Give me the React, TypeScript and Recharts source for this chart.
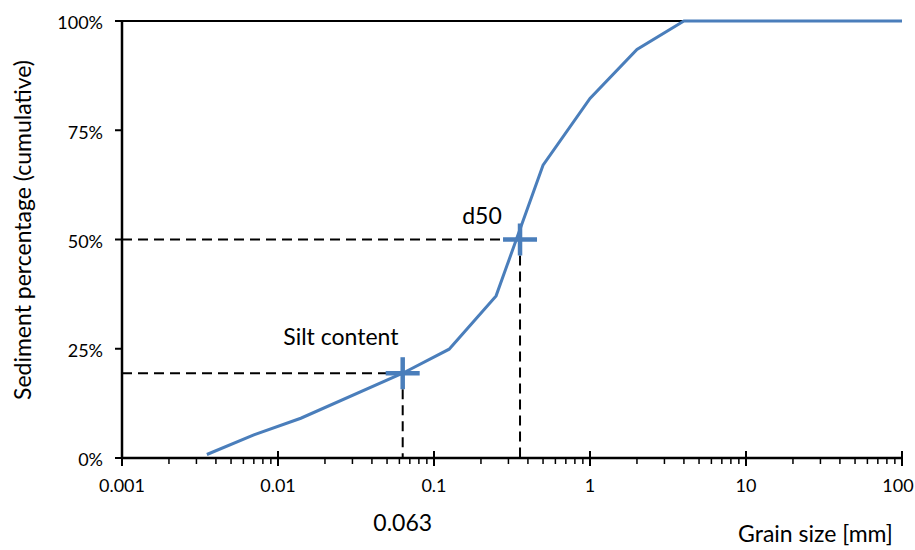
import React from 'react';
import {
  ComposedChart, Line, Scatter, XAxis, YAxis, ReferenceLine, ReferenceDot, Label,
} from 'recharts';

// grain size distribution (cumulative)
const GRAIN_SIZE = [0.0035, 0.007, 0.014, 0.063, 0.125, 0.25, 0.5, 1, 2, 4, 100];
const CUMULATIVE = [0.8, 5.3, 9.1, 19.4, 24.9, 37.1, 67.0, 82.3, 93.5, 100, 100];

const MAJOR_TICKS = [0.001, 0.01, 0.1, 1, 10, 100];
const MINOR_STEPS = [2, 3, 4, 5, 6, 7, 8, 9];
const Y_TICKS = [0, 25, 50, 75, 100];

const SILT_SIZE = 0.063;
const SILT_PCT = 19.4;
const D50_SIZE = 0.356;
const D50_PCT = 50;

const X_MIN = 0.001;
const Y_MIN = 0;

const BLUE = '#4a7ebb';
const FONT = 'Lato, sans-serif';

const curve = GRAIN_SIZE.map((size, i) => ({ size, pct: CUMULATIVE[i] }));
const minorTicks = MAJOR_TICKS.slice(0, -1).flatMap(d => MINOR_STEPS.map(m => +(d * m).toPrecision(3)));
const allTicks = [...MAJOR_TICKS, ...minorTicks].sort((a, b) => a - b);

const fmt = (v: number) => (v >= 1 ? String(v) : String(+v.toPrecision(3)));

const XTick = (props: any) => {
  const { x, y, payload } = props;
  const major = MAJOR_TICKS.includes(payload.value);
  // last label nudged in so it stays on the page
  const dx = payload.value === 100 ? -4 : 0;
  return (
    <g>
      {major ? (
        <line x1={x} x2={x} y1={y - 7} y2={y + 8} stroke="#000" strokeWidth={2} />
      ) : (
        <line x1={x} x2={x} y1={y} y2={y + 6} stroke="#000" strokeWidth={1.5} />
      )}
      {major && (
        <text x={x + dx} y={y + 34} textAnchor="middle" fontSize={18} fontFamily={FONT} fill="#000">
          {fmt(payload.value)}
        </text>
      )}
    </g>
  );
};

const Cross = (props: any) => {
  const { cx, cy } = props;
  return (
    <g stroke={BLUE} strokeWidth={4.5}>
      <line x1={cx - 17} x2={cx + 17} y1={cy} y2={cy} />
      <line x1={cx} x2={cx} y1={cy - 16} y2={cy + 16} />
    </g>
  );
};

const centerText = (text: string) => (p: any) => {
  const { x, y } = p.viewBox;
  return (
    <text x={x} y={y} textAnchor="middle" dominantBaseline="central" fontSize={23} fontFamily={FONT} fill="#000">
      {text}
    </text>
  );
};

export default function App() {
  return (
    <div style={{ position: 'absolute', left: 0, top: 0, width: 915, height: 550, background: '#fff' }}>
      <ComposedChart width={915} height={550} margin={{ top: 21, right: 13, bottom: 62, left: 0 }}>
        <XAxis
          type="number"
          dataKey="size"
          scale="log"
          domain={[0.001, 100]}
          ticks={allTicks}
          interval={0}
          allowDataOverflow
          axisLine={{ stroke: '#000', strokeWidth: 2.5 }}
          tickLine={false}
          tickSize={0}
          tickMargin={0}
          tick={<XTick />}
          height={30}
        />
        <YAxis
          type="number"
          domain={[0, 100]}
          ticks={Y_TICKS}
          width={122}
          axisLine={{ stroke: '#000', strokeWidth: 2.5 }}
          tickLine={{ stroke: '#000', strokeWidth: 2 }}
          tickSize={7}
          tickMargin={12}
          tickFormatter={(v: number) => `${v}%`}
          tick={{ fontSize: 18, fontFamily: FONT, fill: '#000', dy: 2 }}
        >
          <Label
            content={() => (
              <text transform="translate(22,230) rotate(-90)" textAnchor="middle" dominantBaseline="central" fontSize={23} fontFamily={FONT} fill="#000">
                Sediment percentage (cumulative)
              </text>
            )}
          />
        </YAxis>
        <ReferenceLine y={100} stroke="#000" strokeWidth={2} />
        <ReferenceLine segment={[{ x: X_MIN, y: SILT_PCT }, { x: SILT_SIZE, y: SILT_PCT }]} stroke="#000" strokeWidth={2} strokeDasharray="10 6" />
        <ReferenceLine segment={[{ x: SILT_SIZE, y: SILT_PCT }, { x: SILT_SIZE, y: Y_MIN }]} stroke="#000" strokeWidth={2} strokeDasharray="10 6" />
        <ReferenceLine segment={[{ x: X_MIN, y: D50_PCT }, { x: D50_SIZE, y: D50_PCT }]} stroke="#000" strokeWidth={2} strokeDasharray="10 6" />
        <ReferenceLine segment={[{ x: D50_SIZE, y: D50_PCT }, { x: D50_SIZE, y: Y_MIN }]} stroke="#000" strokeWidth={2} strokeDasharray="10 6" />
        <Line
          data={curve}
          dataKey="pct"
          type="linear"
          stroke={BLUE}
          strokeWidth={3}
          dot={false}
          activeDot={false}
          isAnimationActive={false}
        />
        <Scatter data={[{ size: SILT_SIZE, pct: SILT_PCT }]} dataKey="pct" shape={<Cross />} isAnimationActive={false} />
        <Scatter data={[{ size: D50_SIZE, pct: D50_PCT }]} dataKey="pct" shape={<Cross />} isAnimationActive={false} />
        <ReferenceDot x={0.0253} y={27.9} r={0} ifOverflow="visible" label={centerText('Silt content')} />
        <ReferenceDot x={0.203} y={55.6} r={0} ifOverflow="visible" label={centerText('d50')} />
        <ReferenceDot x={SILT_SIZE} y={-14.6} r={0} ifOverflow="visible" label={centerText('0.063')} />
        <ReferenceDot x={27.9} y={-17.2} r={0} ifOverflow="visible" label={centerText('Grain size [mm]')} />
      </ComposedChart>
    </div>
  );
}
